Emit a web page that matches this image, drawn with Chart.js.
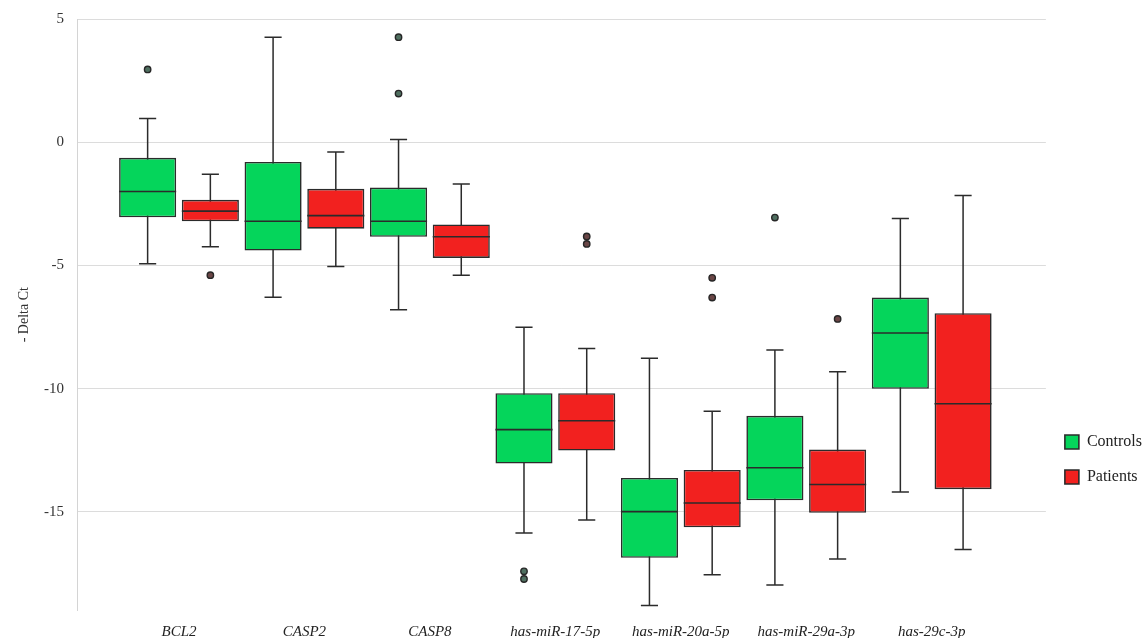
<!DOCTYPE html>
<html>
<head>
<meta charset="utf-8">
<script src="https://cdn.jsdelivr.net/npm/chart.js@4.4.1/dist/chart.umd.min.js"></script>
<style>
  html, body { margin: 0; padding: 0; background: #fff; }
  #wrap { width: 1145px; height: 638px; position: relative; }
</style>
</head>
<body>
<div id="wrap"><canvas id="chartBoxplot"></canvas></div>
<script>
const categories = ['BCL2', 'CASP2', 'CASP8', 'has-miR-17-5p', 'has-miR-20a-5p', 'has-miR-29a-3p', 'has-29c-3p'];

// Controls
const controlsMin = [-4.93, -6.29, -6.8, -15.87, -18.82, -17.98, -14.2];
const controlsQ1 = [-3.04, -4.39, -3.83, -13.05, -16.88, -14.54, -10.01];
const controlsMedian = [-1.99, -3.2, -3.2, -11.67, -15.0, -13.22, -7.74];
const controlsQ3 = [-0.62, -0.79, -1.83, -10.19, -13.63, -11.11, -6.3];
const controlsMax = [0.98, 4.28, 0.12, -7.51, -8.77, -8.43, -3.09];
const controlsOutliers = [[2.97], [], [4.28, 1.99], [-17.43, -17.74], [], [-3.05], []];

// Patients
const patientsMin = [-4.24, -5.04, -5.39, -15.34, -17.57, -16.93, -16.54];
const patientsQ1 = [-3.2, -3.5, -4.69, -12.52, -15.64, -15.05, -14.09];
const patientsMedian = [-2.79, -2.97, -3.83, -11.31, -14.65, -13.9, -10.62];
const patientsQ3 = [-2.33, -1.88, -3.33, -10.19, -13.31, -12.48, -6.94];
const patientsMax = [-1.29, -0.39, -1.69, -8.37, -10.92, -9.32, -2.15];
const patientsOutliers = [[-5.39], [], [], [-3.82, -4.12], [-5.5, -6.3], [-7.17], []];

const yTicks = [5, 0, -5, -10, -15];

const serif = "'Liberation Serif', 'Times New Roman', serif";
const lineColor = '#2b2b2b';

const groups = [
    { label: 'Controls', color: '#05d55b', dot: '#4f6f60', min: controlsMin, q1: controlsQ1, median: controlsMedian, q3: controlsQ3, max: controlsMax, outliers: controlsOutliers },
    { label: 'Patients', color: '#f2211f', dot: '#6a4646', min: patientsMin, q1: patientsQ1, median: patientsMedian, q3: patientsQ3, max: patientsMax, outliers: patientsOutliers }
];

// whiskers behind the boxes, medians and outliers on top
const boxExtras = {
    id: 'boxExtras',
    beforeDatasetsDraw(chart) {
        const y = chart.scales.y;
        const ctx = chart.ctx;
        ctx.save();
        ctx.strokeStyle = lineColor;
        ctx.lineWidth = 1.5;
        groups.forEach((g, d) => {
            chart.getDatasetMeta(d).data.forEach((bar, i) => {
                const lo = y.getPixelForValue(g.min[i]);
                const hi = y.getPixelForValue(g.max[i]);
                const cap = bar.width * 0.3;
                ctx.beginPath();
                ctx.moveTo(bar.x, lo);
                ctx.lineTo(bar.x, hi);
                ctx.moveTo(bar.x - cap / 2, lo);
                ctx.lineTo(bar.x + cap / 2, lo);
                ctx.moveTo(bar.x - cap / 2, hi);
                ctx.lineTo(bar.x + cap / 2, hi);
                ctx.stroke();
            });
        });
        ctx.restore();
    },
    afterDatasetsDraw(chart) {
        const y = chart.scales.y;
        const ctx = chart.ctx;
        ctx.save();
        groups.forEach((g, d) => {
            chart.getDatasetMeta(d).data.forEach((bar, i) => {
                const m = y.getPixelForValue(g.median[i]);
                ctx.strokeStyle = lineColor;
                ctx.lineWidth = 1.6;
                ctx.beginPath();
                ctx.moveTo(bar.x - bar.width / 2, m);
                ctx.lineTo(bar.x + bar.width / 2, m);
                ctx.stroke();

                g.outliers[i].forEach(v => {
                    ctx.beginPath();
                    ctx.arc(bar.x, y.getPixelForValue(v), 3.2, 0, Math.PI * 2);
                    ctx.fillStyle = g.dot;
                    ctx.fill();
                    ctx.lineWidth = 1.4;
                    ctx.strokeStyle = '#262626';
                    ctx.stroke();
                });
            });
        });
        ctx.restore();
    }
};

const ctx = document.getElementById('chartBoxplot').getContext('2d');

const chartBoxplot = new Chart(ctx, {
    type: 'bar',
    data: {
        datasets: groups.map(g => ({
            label: g.label,
            data: g.q1.map((v, i) => ({ x: i, y: [v, g.q3[i]] })),
            backgroundColor: g.color,
            borderColor: lineColor,
            borderWidth: 1.6,
            borderSkipped: false,
            categoryPercentage: 1.0,
            barPercentage: 0.91
        }))
    },
    options: {
        responsive: true,
        maintainAspectRatio: false,
        animation: false,
        layout: { padding: { top: 19.5, right: -7, bottom: -16, left: 0 } },
        plugins: {
            tooltip: { enabled: false },
            legend: {
                position: 'right',
                title: { display: true, text: '', padding: { top: 231, bottom: 0 } },
                labels: {
                    boxWidth: 14,
                    boxHeight: 14,
                    padding: 19,
                    color: '#222',
                    font: { family: serif, size: 16 }
                }
            }
        },
        scales: {
            x: {
                type: 'linear',
                offset: false,
                min: -0.813,
                max: 6.91,
                grid: { display: false, drawTicks: false, tickLength: 0 },
                border: { display: false },
                afterBuildTicks: scale => {
                    scale.ticks = categories.map((c, i) => ({ value: i }));
                },
                ticks: {
                    autoSkip: false,
                    maxRotation: 0,
                    padding: 13,
                    color: '#222',
                    font: { family: serif, size: 15, style: 'italic' },
                    callback: v => categories[v]
                }
            },
            y: {
                min: -19,
                max: 5,
                afterFit: scale => { scale.width = 77; },
                afterBuildTicks: scale => {
                    scale.ticks = yTicks.map(v => ({ value: v }));
                },
                grid: { color: '#dcdcdc', drawTicks: true, tickLength: 9, tickColor: 'rgba(0,0,0,0)', lineWidth: 1 },
                border: { color: '#d4d4d4' },
                ticks: {
                    padding: 4,
                    color: '#333',
                    font: { family: serif, size: 15 }
                },
                title: {
                    display: true,
                    text: '- Delta Ct',
                    color: '#333',
                    padding: { top: 16, bottom: 0 },
                    font: { family: serif, size: 14 }
                }
            }
        }
    },
    plugins: [boxExtras]
});
</script>
</body>
</html>
